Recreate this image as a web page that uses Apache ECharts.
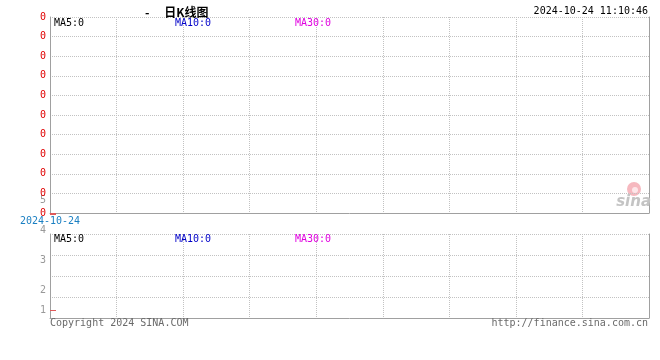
<!DOCTYPE html>
<html><head><meta charset="utf-8">
<script src="https://cdn.jsdelivr.net/npm/echarts@6/dist/echarts.min.js"></script>
<style>html,body{margin:0;padding:0;background:#fff}#c{width:660px;height:360px}</style>
</head><body><div id="c"></div>
<script>
// ---- data ----
const dates = ['2024-10-24'];
const open = [0];
const close = [0];
const low = [0];
const high = [0];
const volume = [1];
const ma5 = [0], ma10 = [0], ma30 = [0];
const volMa5 = [0], volMa10 = [0], volMa30 = [0];
const priceTickValues = [0, 0.63, 1, 2, 3, 4, 5, 6, 7, 8, 9, 10];
const priceTickLabels = ['0', '5', '0', '0', '0', '0', '0', '0', '0', '0', '0', '0'];
const volTickValues = [1, 1.75, 2.875, 4];
const volTickLabels = ['1', '2', '3', '4'];
const titleText = '-\u3000 日K线图';
const timeText = '2024-10-24 11:10:46';
const copyText = 'Copyright 2024 SINA.COM';
const urlText = 'http://finance.sina.com.cn';

const last = a => a[a.length - 1];
const MONO = '"DejaVu Sans Mono", "Liberation Mono", monospace';
const GRID = '#c2c2c2';
const BORDER = '#a0a0a0';
const dotted = { show: true, lineStyle: { color: GRID, type: [1, 1], width: 1 } };
const solid = { show: true, lineStyle: { color: BORDER, width: 1 } };

function txt(text, left, top, color, extra) {
  return Object.assign({
    text: text, left: left, top: top, padding: 0, itemGap: 0,
    textStyle: { color: color, fontFamily: MONO, fontSize: 10, fontWeight: 'normal' }
  }, extra || {});
}

const chart = echarts.init(document.getElementById('c'), null, { renderer: 'canvas' });
chart.setOption({
  animation: false,
  backgroundColor: '#fff',
  title: [
    { text: titleText, left: 145, top: 6, padding: 0,
      textStyle: { color: '#000', fontFamily: '"Noto Sans CJK SC", sans-serif', fontSize: 12, fontWeight: 'bold' } },
    { text: timeText, right: 12, top: 6, padding: 0,
      textStyle: { color: '#000', fontFamily: MONO, fontSize: 10, fontWeight: 'normal' } },
    txt('MA5:' + last(ma5), 54, 18, '#000'),
    txt('MA10:' + last(ma10), 175, 18, '#0000c8'),
    txt('MA30:' + last(ma30), 295, 18, '#e000e0'),
    txt('MA5:' + last(volMa5), 54, 234, '#000'),
    txt('MA10:' + last(volMa10), 175, 234, '#0000c8'),
    txt('MA30:' + last(volMa30), 295, 234, '#e000e0'),
    txt(copyText, 50, 318, '#6a6a6a'),
    { text: urlText, right: 12, top: 318, padding: 0,
      textStyle: { color: '#6a6a6a', fontFamily: MONO, fontSize: 10, fontWeight: 'normal' } },
    { text: 'sina', right: 9, top: 195, padding: 0,
      textStyle: { color: '#c4c4c4', fontFamily: '"DejaVu Sans", sans-serif', fontSize: 15, fontStyle: 'italic', fontWeight: 'bold' } }
  ],
  graphic: [
    { type: 'circle', shape: { cx: 634, cy: 189, r: 7 }, style: { fill: '#f6b8bf' }, z: 0 },
    { type: 'circle', shape: { cx: 635, cy: 190, r: 3 }, style: { fill: '#fde6e9' }, z: 1 }
  ],
  grid: [
    { left: 50, top: 17, width: 599, height: 196 },
    { left: 50, top: 234, width: 599, height: 84 },
    { left: 50, top: 230, width: 599, height: 106.67 }
  ],
  xAxis: [
    { type: 'value', gridIndex: 0, min: 0, max: 9, interval: 1,
      axisLine: solid, axisTick: { show: false }, splitLine: dotted,
      axisLabel: { margin: 3, color: '#1a7fc2', fontFamily: MONO, fontSize: 10,
        formatter: v => (dates[v] !== undefined ? dates[v] : '') } },
    { type: 'value', gridIndex: 1, min: 0, max: 9, interval: 1,
      axisLine: solid, axisTick: { show: false }, splitLine: dotted,
      axisLabel: { show: false } },
    { type: 'value', gridIndex: 2, min: 0, max: 9, interval: 1, show: false }
  ],
  yAxis: [
    { type: 'value', gridIndex: 0, position: 'left', min: 0, max: 10, interval: 1,
      axisLine: solid, axisTick: { show: false }, splitLine: dotted,
      axisLabel: { margin: 4, fontFamily: MONO, fontSize: 10,
        customValues: priceTickValues,
        formatter: (v) => priceTickLabels[priceTickValues.indexOf(v)],
        color: (v) => (priceTickLabels[priceTickValues.indexOf(Number(v))] === '5' ? '#999999' : '#e00000') } },
    { type: 'value', gridIndex: 0, position: 'right', min: 0, max: 10, interval: 1,
      axisLine: solid, axisTick: { show: false }, splitLine: { show: false }, axisLabel: { show: false } },
    { type: 'value', gridIndex: 1, position: 'left', min: 0, max: 4, interval: 1,
      axisLine: solid, axisTick: { show: false }, splitLine: dotted, axisLabel: { show: false } },
    { type: 'value', gridIndex: 1, position: 'right', min: 0, max: 4, interval: 1,
      axisLine: solid, axisTick: { show: false }, splitLine: { show: false }, axisLabel: { show: false } },
    { type: 'value', gridIndex: 2, position: 'left', min: 0, max: 4, interval: 1,
      axisLine: { show: false }, axisTick: { show: false }, splitLine: { show: false },
      axisLabel: { margin: 4, fontFamily: MONO, fontSize: 10, color: '#999999',
        customValues: volTickValues,
        formatter: (v) => volTickLabels[volTickValues.indexOf(v)] } }
  ],
  series: [
    { type: 'custom', name: 'K', xAxisIndex: 0, yAxisIndex: 0, clip: false, z: 5,
      data: dates.map((d, i) => [i, open[i], close[i], low[i], high[i]]),
      renderItem: function (params, api) {
        const o = api.coord([api.value(0), api.value(1)]);
        const c = api.coord([api.value(0), api.value(2)]);
        const l = api.coord([api.value(0), api.value(3)]);
        const h = api.coord([api.value(0), api.value(4)]);
        const w = 6;
        const x = o[0];
        const top = Math.min(o[1], c[1]);
        const ht = Math.max(Math.abs(o[1] - c[1]), 2);
        return { type: 'group', children: [
          { type: 'line', shape: { x1: x + w / 2, y1: h[1], x2: x + w / 2, y2: l[1] }, style: { stroke: '#e05a5a', lineWidth: 1 } },
          { type: 'rect', shape: { x: x, y: top, width: w, height: ht }, style: { fill: '#e05a5a' } }
        ] };
      } },
    { type: 'custom', name: 'VOL', xAxisIndex: 2, yAxisIndex: 4, clip: false, z: 5,
      data: dates.map((d, i) => [i, volume[i]]),
      renderItem: function (params, api) {
        const p = api.coord([api.value(0), api.value(1)]);
        return { type: 'line', shape: { x1: p[0], y1: p[1] + 0.5, x2: p[0] + 6, y2: p[1] + 0.5 },
          style: { stroke: '#e05a5a', lineWidth: 1 } };
      } }
  ]
});
</script></body></html>
